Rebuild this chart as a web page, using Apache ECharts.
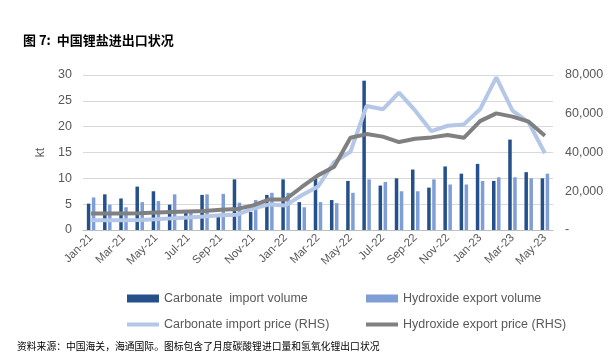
<!DOCTYPE html>
<html>
<head>
<meta charset="utf-8">
<script src="https://cdn.jsdelivr.net/npm/echarts@6/dist/echarts.min.js"></script>
<style>
html,body{margin:0;padding:0;background:#fff;}
#c{width:610px;height:356px;}
</style>
</head>
<body>
<div id="c"></div>
<script>
var categories = ['Jan-21','Feb-21','Mar-21','Apr-21','May-21','Jun-21','Jul-21','Aug-21','Sep-21','Oct-21','Nov-21','Dec-21',
  'Jan-22','Feb-22','Mar-22','Apr-22','May-22','Jun-22','Jul-22','Aug-22','Sep-22','Oct-22','Nov-22','Dec-22',
  'Jan-23','Feb-23','Mar-23','Apr-23','May-23'];
var carbonateImportVolume = [5.1, 6.9, 6.1, 8.4, 7.5, 4.9, 3.4, 6.8, 3.0, 9.8, 3.5, 6.8,
  9.8, 5.4, 9.9, 5.8, 9.5, 28.9, 8.6, 10.0, 11.7, 8.2, 12.3, 10.9,
  12.8, 9.5, 17.5, 11.2, 10.0];
var hydroxideExportVolume = [6.3, 4.9, 4.4, 5.4, 5.6, 6.9, 3.4, 6.9, 7.0, 5.3, 5.8, 7.2,
  7.2, 4.4, 5.4, 5.2, 7.2, 9.8, 9.3, 7.5, 7.5, 9.8, 8.8, 8.8,
  9.5, 10.2, 10.2, 10.0, 10.9];
var carbonateImportPrice = [5000, 5000, 5000, 5200, 5500, 6000, 6500, 7000, 7600, 7900, 11000, 13200,
  12700, 17900, 22400, 35000, 40400, 64000, 62300, 70900, 61600, 51000, 53800, 54500,
  62300, 78800, 61600, 55500, 39600];
var hydroxideExportPrice = [8500, 8500, 8500, 8600, 9000, 9300, 9600, 9800, 10500, 10800, 12700, 15800,
  15800, 22200, 28200, 32600, 47600, 49500, 48200, 45400, 47100, 47800, 49000, 47600,
  56200, 60200, 58500, 55900, 48700];
var leftTicks = {min: 0, max: 30, interval: 5};
var rightTicks = {min: 0, max: 80000, interval: 20000};

var names = ['Carbonate  import volume', 'Hydroxide export volume', 'Carbonate import price (RHS)', 'Hydroxide export price (RHS)'];
var txt = '#595959';
var font = 'Liberation Sans';
var lineIcon = 'path://M0,0H32V4H0Z';

var chart = echarts.init(document.getElementById('c'), null, {renderer: 'canvas'});
chart.setOption({
  animation: false,
  backgroundColor: '#ffffff',
  textStyle: {fontFamily: font},
  title: {
    text: '图 7:  中国锂盐进出口状况',
    left: 18, top: 29,
    textStyle: {fontFamily: 'Noto Sans CJK SC', fontWeight: 'bold', fontSize: 13, color: '#000'}
  },
  graphic: [{
    type: 'text', left: 17, top: 341,
    style: {text: '资料来源：中国海关，海通国际。图标包含了月度碳酸锂进口量和氢氧化锂出口状况',
      fontFamily: 'Noto Sans CJK SC', fontSize: 9.8, fill: '#000'}
  }],
  legend: [{
    orient: 'vertical', left: 127, top: 292, padding: 0, itemWidth: 32, itemHeight: 8, itemGap: 13,
    textStyle: {color: txt, fontSize: 12.5, fontFamily: font},
    data: [{name: names[0], icon: 'rect'}, {name: names[2], icon: lineIcon}]
  }, {
    orient: 'vertical', left: 366, top: 292, padding: 0, itemWidth: 32, itemHeight: 8, itemGap: 13,
    textStyle: {color: txt, fontSize: 12.5, fontFamily: font},
    data: [{name: names[1], icon: 'rect'}, {name: names[3], icon: lineIcon}]
  }],
  grid: {left: 83, right: 57, top: 75, bottom: 126},
  xAxis: {
    type: 'category', data: categories, boundaryGap: true,
    axisLine: {lineStyle: {color: '#BFBFBF'}},
    axisTick: {interval: 1, length: 4, lineStyle: {color: '#BFBFBF'}},
    axisLabel: {interval: 1, rotate: 45, color: txt, fontSize: 11.5, margin: 6}
  },
  yAxis: [{
    type: 'value', min: leftTicks.min, max: leftTicks.max, interval: leftTicks.interval,
    name: 'kt', nameLocation: 'middle', nameGap: 36, nameRotate: 90,
    nameTextStyle: {color: txt, fontSize: 12},
    axisLine: {show: false}, axisTick: {show: false},
    axisLabel: {color: txt, fontSize: 12.5, margin: 11},
    splitLine: {lineStyle: {color: '#D9D9D9'}}
  }, {
    type: 'value', min: rightTicks.min, max: rightTicks.max, interval: rightTicks.interval,
    axisLine: {show: false}, axisTick: {show: false},
    axisLabel: {color: txt, fontSize: 12.5, margin: 12,
      formatter: function (v) { return v === 0 ? '-' : v.toLocaleString('en-US'); }},
    splitLine: {show: false}
  }],
  series: [{
    name: names[0], type: 'bar', data: carbonateImportVolume, yAxisIndex: 0,
    barWidth: 3.5, barGap: '43%', itemStyle: {color: '#24508C'}
  }, {
    name: names[1], type: 'bar', data: hydroxideExportVolume, yAxisIndex: 0,
    barWidth: 3.5, barGap: '43%', itemStyle: {color: '#7F9ED6'}
  }, {
    name: names[2], type: 'line', data: carbonateImportPrice, yAxisIndex: 1,
    symbol: 'none', lineStyle: {color: '#B4C7E7', width: 4}, itemStyle: {color: '#B4C7E7'}, z: 3
  }, {
    name: names[3], type: 'line', data: hydroxideExportPrice, yAxisIndex: 1,
    symbol: 'none', lineStyle: {color: '#808080', width: 4}, itemStyle: {color: '#808080'}, z: 4
  }]
});
</script>
</body>
</html>
